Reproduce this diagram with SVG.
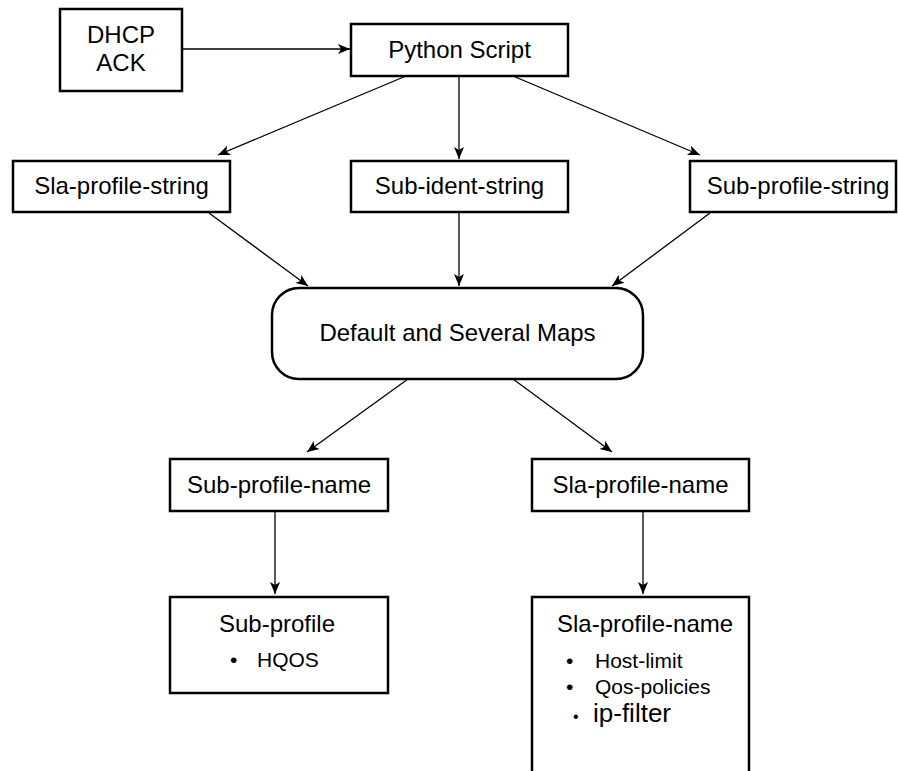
<svg xmlns="http://www.w3.org/2000/svg" width="898" height="771" viewBox="0 0 898 771">
<style>
  .box { fill: #ffffff; stroke: #000000; stroke-width: 2.5; }
  .t { font-family: "Liberation Sans", Arial, sans-serif; font-size: 24px; fill: #000000; }
  .tc { text-anchor: middle; }
  .s { font-family: "Liberation Sans", Arial, sans-serif; font-size: 21px; fill: #000000; }
  .conn line { stroke: #000000; stroke-width: 1.3; marker-end: url(#arr); }
</style>
<defs>
  <marker id="arr" viewBox="0 0 12 10" refX="12" refY="5" markerWidth="13" markerHeight="10" markerUnits="userSpaceOnUse" orient="auto">
    <path d="M0,0 L12,5 L0,10 L3,5 z" fill="#000000"/>
  </marker>
</defs>
<rect width="898" height="771" fill="#ffffff"/>

<g id="dhcp-ack">
  <rect class="box" x="60" y="9" width="122" height="82"/>
  <text class="t tc" x="121" y="43">DHCP</text>
  <text class="t tc" x="121" y="71">ACK</text>
</g>
<g id="python-script">
  <rect class="box" x="351" y="24" width="217" height="52"/>
  <text class="t tc" x="459.5" y="58">Python Script</text>
</g>
<g id="sla-profile-string">
  <rect class="box" x="13" y="161" width="217" height="51"/>
  <text class="t tc" x="121.5" y="194">Sla-profile-string</text>
</g>
<g id="sub-ident-string">
  <rect class="box" x="351" y="161" width="217" height="51"/>
  <text class="t tc" x="459.5" y="194">Sub-ident-string</text>
</g>
<g id="sub-profile-string">
  <rect class="box" x="690" y="161" width="206" height="51"/>
  <text class="t tc" x="798" y="194">Sub-profile-string</text>
</g>
<g id="default-maps">
  <rect class="box" x="272" y="288" width="371" height="91" rx="27" ry="27"/>
  <text class="t tc" x="457.5" y="341">Default and Several Maps</text>
</g>
<g id="sub-profile-name">
  <rect class="box" x="170" y="459" width="218" height="52"/>
  <text class="t tc" x="279" y="493">Sub-profile-name</text>
</g>
<g id="sla-profile-name">
  <rect class="box" x="532" y="459" width="217" height="52"/>
  <text class="t tc" x="640.5" y="493">Sla-profile-name</text>
</g>
<g id="sub-profile">
  <rect class="box" x="170" y="597" width="218" height="96"/>
  <text class="t tc" x="277" y="632">Sub-profile</text>
  <text class="s" x="230" y="667">•</text>
  <text class="s" x="257" y="667">HQOS</text>
</g>
<g id="sla-profile-detail">
  <rect class="box" x="532" y="597" width="217" height="190"/>
  <text class="t" x="557" y="632">Sla-profile-name</text>
  <text class="s" x="566" y="668">•</text>
  <text class="s" x="595" y="668">Host-limit</text>
  <text class="s" x="566" y="694">•</text>
  <text class="s" x="595" y="694">Qos-policies</text>
  <text font-family="Liberation Sans, Arial, sans-serif" font-size="16" x="573" y="722">•</text>
  <text font-family="Liberation Sans, Arial, sans-serif" font-size="26" x="593" y="722">ip-filter</text>
</g>

<g id="connectors" class="conn">
  <line x1="182" y1="49" x2="350" y2="49"/>
  <line x1="406" y1="76" x2="218" y2="155"/>
  <line x1="459" y1="76" x2="459" y2="159"/>
  <line x1="513" y1="76" x2="700" y2="155"/>
  <line x1="209" y1="213" x2="308" y2="286"/>
  <line x1="459" y1="212" x2="459" y2="286"/>
  <line x1="710" y1="213" x2="612" y2="286"/>
  <line x1="408" y1="379" x2="307" y2="452"/>
  <line x1="513" y1="379" x2="612" y2="452"/>
  <line x1="275" y1="511" x2="275" y2="594"/>
  <line x1="643" y1="511" x2="643" y2="594"/>
</g>
</svg>
